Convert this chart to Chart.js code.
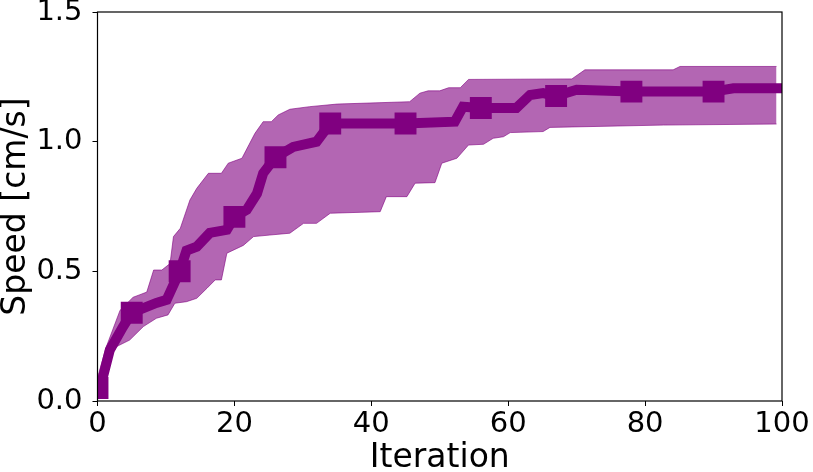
<!DOCTYPE html>
<html>
<head>
<meta charset="utf-8">
<script src="https://cdn.jsdelivr.net/npm/chart.js@4"></script>
<style>
  html, body { margin: 0; padding: 0; background: #fff; }
  canvas { display: block; }
</style>
</head>
<body>
<canvas id="speed" width="813" height="472"></canvas>
<script>
// mean speed curve (breakpoints)
const meanX = [0, 0.8, 1.8, 3.7, 5, 8.6, 10.1, 12, 13, 14.5, 16.4, 18.9, 20, 21.8, 23.3, 24.2, 26, 28.6, 32, 34, 45, 52.2, 53.4, 56, 61.2, 63.2, 65.1, 67, 70, 78, 90, 92.9, 100];
const meanY = [0.05, 0.093, 0.197, 0.285, 0.34, 0.378, 0.39, 0.5, 0.58, 0.595, 0.648, 0.66, 0.71, 0.737, 0.80, 0.878, 0.94, 0.98, 1.0, 1.07, 1.07, 1.077, 1.135, 1.13, 1.13, 1.18, 1.187, 1.176, 1.2, 1.193, 1.193, 1.206, 1.206];

// square markers
const markerX = [0, 5, 12, 20, 26, 34, 45, 56, 67, 78, 90];
const markerY = [0.05, 0.34, 0.5, 0.71, 0.94, 1.07, 1.07, 1.13, 1.176, 1.193, 1.193];

// shaded band
const upperX = [0, 1.3, 3.3, 5.2, 6.2, 7.2, 8.2, 9.4, 10.6, 11.1, 12.1, 13.5, 14.5, 16.2, 18.1, 19.1, 21.1, 23, 24.2, 25.4, 26.4, 28.1, 31, 35, 45.6, 47.1, 48.3, 50, 51.3, 53, 54.2, 69.3, 71.2, 84.1, 85.1, 99.2];
const upperY = [0.09, 0.21, 0.35, 0.40, 0.41, 0.42, 0.505, 0.505, 0.53, 0.634, 0.666, 0.775, 0.82, 0.878, 0.878, 0.917, 0.936, 1.032, 1.077, 1.077, 1.103, 1.125, 1.135, 1.145, 1.154, 1.187, 1.196, 1.196, 1.208, 1.208, 1.24, 1.242, 1.277, 1.277, 1.29, 1.29];
const lowerX = [0, 1.2, 2.8, 4.7, 6.7, 8.6, 10.3, 11.3, 13, 14.5, 16, 17.2, 18.1, 18.9, 21.3, 22.8, 25.2, 28.1, 30.1, 32, 34, 41.3, 42.2, 45.2, 46.4, 49.3, 50.3, 52.5, 54.2, 56.4, 57.8, 59.3, 60.3, 65.1, 66.1, 82.7, 99.2];
const lowerY = [0.01, 0.14, 0.21, 0.235, 0.287, 0.319, 0.332, 0.377, 0.383, 0.396, 0.435, 0.467, 0.467, 0.57, 0.60, 0.634, 0.64, 0.647, 0.685, 0.685, 0.724, 0.73, 0.788, 0.788, 0.84, 0.842, 0.917, 0.936, 0.987, 0.99, 1.013, 1.019, 1.035, 1.039, 1.055, 1.064, 1.068];

const xTicks = [0, 20, 40, 60, 80, 100];
const yTicks = [0.0, 0.5, 1.0, 1.5];

const PURPLE = '#800080';
const BAND = 'rgba(128, 0, 128, 0.6)';
const toPts = (xs, ys) => xs.map((x, i) => ({x: x, y: ys[i]}));

// box round the plot area (matplotlib spines)
const frame = {
    id: 'frame',
    afterDraw(chart) {
        const a = chart.chartArea;
        const c = chart.ctx;
        c.save();
        c.strokeStyle = '#000';
        c.lineWidth = 1.2;
        c.strokeRect(a.left, a.top, a.right - a.left, a.bottom - a.top);
        c.restore();
    }
};

Chart.defaults.font.family = '"DejaVu Sans"';
Chart.defaults.color = '#000';

new Chart(document.getElementById('speed').getContext('2d'), {
    type: 'line',
    plugins: [frame],
    data: {
        datasets: [
            {
                data: toPts(upperX, upperY),
                borderColor: BAND,
                borderWidth: 1,
                pointRadius: 0,
                fill: false,
                order: 3,
                clip: 0
            },
            {
                data: toPts(lowerX, lowerY),
                borderColor: BAND,
                backgroundColor: BAND,
                borderWidth: 1,
                pointRadius: 0,
                fill: 0,
                order: 2,
                clip: 0
            },
            {
                data: toPts(meanX, meanY),
                borderColor: PURPLE,
                borderWidth: 10,
                pointRadius: 0,
                fill: false,
                order: 1,
                clip: 0
            },
            {
                data: toPts(markerX, markerY),
                showLine: false,
                pointStyle: 'rect',
                pointRadius: 15.5,
                pointBackgroundColor: PURPLE,
                pointBorderWidth: 0,
                order: 0,
                clip: 0
            }
        ]
    },
    options: {
        responsive: false,
        animation: false,
        devicePixelRatio: 1,
        layout: {
            autoPadding: false,
            padding: {top: 12, right: 31, left: 0, bottom: 0}
        },
        plugins: {
            legend: {display: false},
            tooltip: {enabled: false}
        },
        scales: {
            x: {
                type: 'linear',
                min: 0,
                max: 100,
                afterBuildTicks: s => { s.ticks = xTicks.map(v => ({value: v})); },
                afterFit: s => { s.height = 71; s.paddingLeft = 0; s.paddingRight = 0; },
                grid: {
                    drawOnChartArea: false,
                    tickLength: 5,
                    tickColor: '#000'
                },
                border: {display: false},
                ticks: {
                    padding: 1,
                    maxRotation: 0,
                    font: {size: 29}
                },
                title: {
                    display: true,
                    text: 'Iteration',
                    font: {size: 33, lineHeight: 0.8},
                    padding: 0
                }
            },
            y: {
                type: 'linear',
                min: 0,
                max: 1.5,
                afterBuildTicks: s => { s.ticks = yTicks.map(v => ({value: v})); },
                afterFit: s => { s.width = 97.5; s.paddingTop = 0; s.paddingBottom = 0; },
                grid: {
                    drawOnChartArea: false,
                    tickLength: 5,
                    tickColor: '#000'
                },
                border: {display: false},
                ticks: {
                    padding: 10,
                    font: {size: 29},
                    callback: v => v.toFixed(1)
                },
                title: {
                    display: true,
                    text: 'Speed [cm/s]',
                    font: {size: 33, lineHeight: 1},
                    padding: 0
                }
            }
        }
    }
});
</script>
</body>
</html>
